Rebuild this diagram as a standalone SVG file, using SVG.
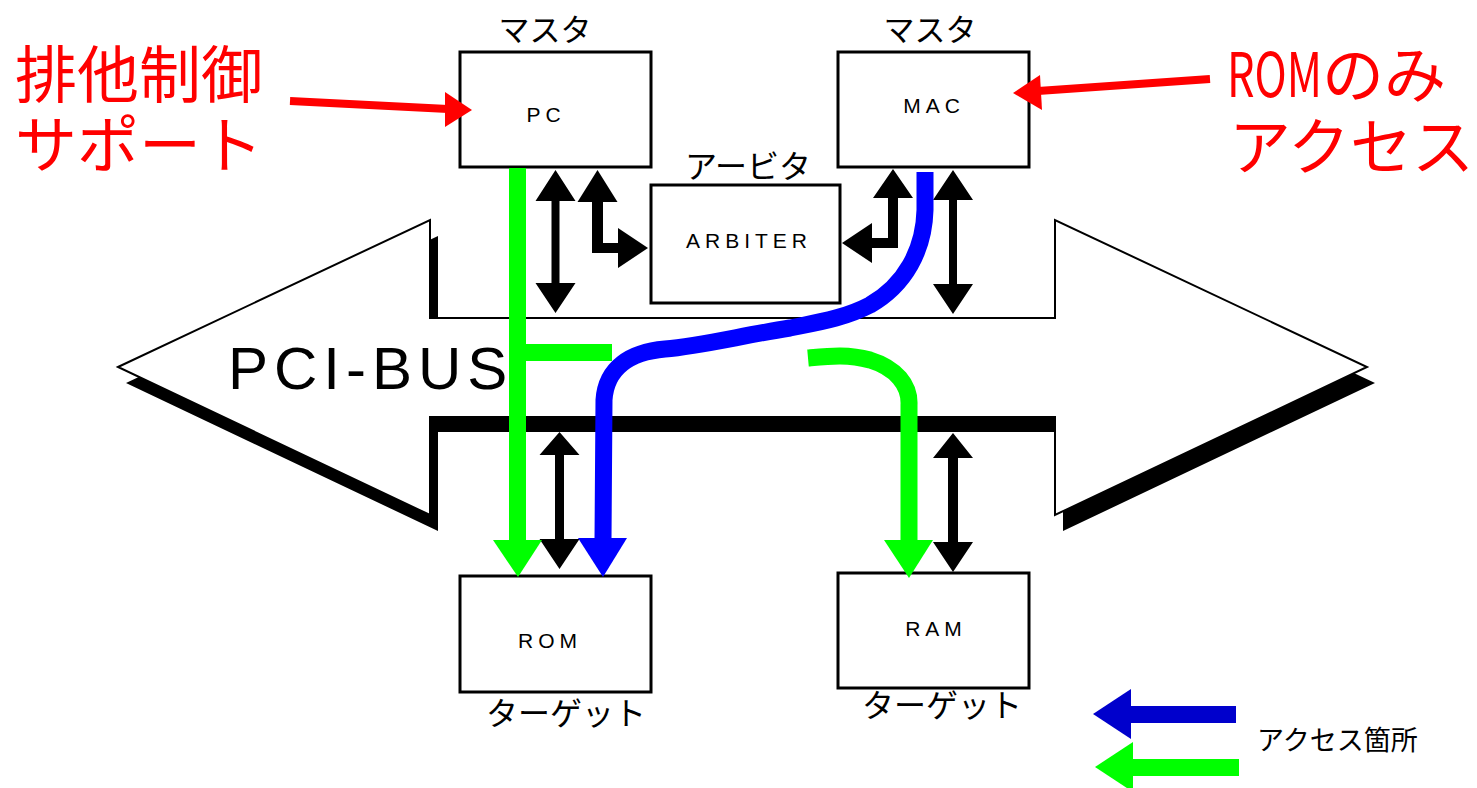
<svg xmlns="http://www.w3.org/2000/svg" width="1477" height="788" viewBox="0 0 1477 788">
  <style>
    .box { fill: #ffffff; stroke: #000000; stroke-width: 3; }
    .lbl { font-family: "Liberation Sans", Arial, sans-serif; font-size: 21px; letter-spacing: 5px; fill: #000000; text-anchor: middle; }
    .jp { font-family: "Noto Sans CJK JP", "Noto Sans", sans-serif; fill: #000000; text-anchor: middle; }
    .red { font-family: "Noto Sans CJK JP", "Noto Sans", sans-serif; font-size: 62px; fill: #ff0000; }
    .blk { fill: #000000; }
    .grn { fill: none; stroke: #00ff00; stroke-width: 17; }
    .blu { fill: none; stroke: #0000ff; stroke-width: 17; stroke-linejoin: round; }
  </style>

  <rect width="1477" height="788" fill="#ffffff"/>

  <!-- PCI bus: double-headed block arrow with a drop shadow -->
  <g id="pci-bus">
    <polygon class="blk" points="126,383 438,236 438,318 1063,318 1063,236 1375,383 1063,531 1063,432 438,432 438,531"/>
    <polygon fill="#ffffff" stroke="#000000" stroke-width="2" points="118,367 430,220 430,318 1055,318 1055,220 1367,367 1055,515 1055,417 430,417 430,515"/>
    <rect class="blk" x="430" y="417" width="625" height="15"/>
    <text x="228" y="389" font-family="Liberation Sans, Arial, sans-serif" font-size="60" letter-spacing="6" fill="#000000">PCI-BUS</text>
  </g>

  <!-- Masters, arbiter and targets -->
  <g id="node-pc">
    <rect class="box" x="460" y="52" width="191" height="115"/>
    <text class="lbl" x="546" y="122">PC</text>
    <text class="jp" x="545" y="41" font-size="31">マスタ</text>
  </g>
  <g id="node-mac">
    <rect class="box" x="838" y="52" width="191" height="115"/>
    <text class="lbl" x="934" y="113">MAC</text>
    <text class="jp" x="930" y="41" font-size="31">マスタ</text>
  </g>
  <g id="node-arbiter">
    <rect class="box" x="651" y="185" width="189" height="118"/>
    <text class="lbl" x="749" y="248">ARBITER</text>
    <text class="jp" x="748" y="178" font-size="32">アービタ</text>
  </g>
  <g id="node-rom">
    <rect class="box" x="460" y="576" width="191" height="116"/>
    <text class="lbl" x="550" y="648">ROM</text>
    <text class="jp" x="566" y="725" font-size="32">ターゲット</text>
  </g>
  <g id="node-ram">
    <rect class="box" x="838" y="573" width="191" height="115"/>
    <text class="lbl" x="936" y="636">RAM</text>
    <text class="jp" x="942" y="717" font-size="32">ターゲット</text>
  </g>

  <!-- Annotations -->
  <g id="note-left">
    <text class="red" x="15" y="98">排他制御</text>
    <text class="red" x="15" y="168">サポート</text>
  </g>
  <g id="note-right">
    <text class="red" x="1227" y="97" textLength="95" lengthAdjust="spacingAndGlyphs">ROM</text>
    <text class="red" x="1322" y="98">のみ</text>
    <text class="red" x="1229" y="170">アクセス</text>
  </g>

  <!-- Legend -->
  <g id="legend">
    <rect x="1130" y="706" width="106" height="17" fill="#0000cc"/>
    <polygon points="1093,714 1131,689 1131,739" fill="#0000cc"/>
    <rect x="1133" y="759" width="106" height="17" fill="#00ff00"/>
    <polygon points="1095,767 1133,742 1133,792" fill="#00ff00"/>
    <text x="1257" y="750" font-family="Noto Sans CJK JP, Noto Sans, sans-serif" font-size="27" fill="#000000">アクセス箇所</text>
  </g>

  <!-- Connectors -->
  <g id="connectors">
    <!-- bus signals (black, double-headed) -->
    <polygon class="blk" points="555.5,170 575.5,201 559.5,201 559.5,283 575.5,283 555.5,313 535.5,283 551.5,283 551.5,201 535.5,201"/>
    <polygon class="blk" points="953,170 973,200 957,200 957,284 973,284 953,314 933,284 949,284 949,200 933,200"/>
    <polygon class="blk" points="559.5,432 579.5,455 564,455 564,539 579.5,539 559.5,569 539.5,539 555,539 555,455 539.5,455"/>
    <polygon class="blk" points="953,433 973,458 958,458 958,542 973,542 953,572 933,542 948,542 948,458 933,458"/>
    <!-- request / grant lines to the arbiter -->
    <polygon class="blk" points="597.5,170 617.5,202 603,202 603,243 618,243 618,228 648,248 618,268 618,253 592,253 592,202 577.5,202"/>
    <polygon class="blk" points="893,169 913,198 898,198 898,248 872,248 872,263 842,243 872,223 872,238 888,238 888,198 873,198"/>

    <!-- PC access paths (green) -->
    <path class="grn" d="M517.5,168 V541"/>
    <path class="grn" d="M526,352.5 H612"/>
    <polygon points="493,540 542,540 518,577" fill="#00ff00"/>
    <path class="grn" d="M808,358 C830,356 848,354 870,360 C896,368 910,385 909,405 V541" stroke-linejoin="round"/>
    <polygon points="884,540 933,540 909,578" fill="#00ff00"/>

    <!-- MAC access path (blue) -->
    <path class="blu" d="M925,172 V210 C924,250 905,285 870,305 C845,318 820,322 790,328 C740,336 700,346 665,349 C630,352 606,368 604,400 L603,540"/>
    <polygon points="578,538 627,538 603,577" fill="#0000ff"/>

    <!-- annotation pointers (red) -->
    <line x1="290" y1="101" x2="448" y2="109" stroke="#ff0000" stroke-width="8"/>
    <polygon points="445,92 472,110 445,127" fill="#ff0000"/>
    <line x1="1210" y1="79" x2="1038" y2="91" stroke="#ff0000" stroke-width="8"/>
    <polygon points="1040,75 1013,93 1042,110" fill="#ff0000"/>
  </g>
</svg>
